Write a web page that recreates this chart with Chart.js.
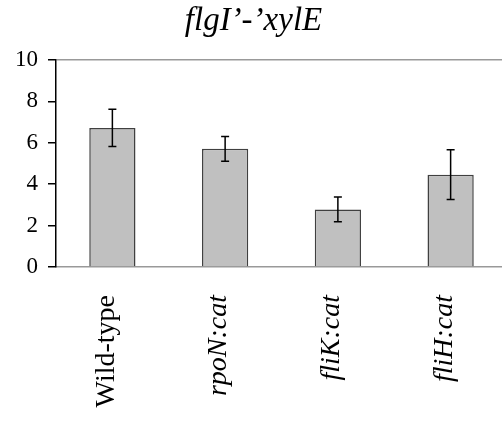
<!DOCTYPE html>
<html>
<head>
<meta charset="utf-8">
<script src="https://cdn.jsdelivr.net/npm/chart.js@4/dist/chart.umd.min.js"></script>
<style>
  html, body { margin: 0; padding: 0; background: #fff; overflow: hidden; }
  canvas { display: block; }
</style>
</head>
<body>
<canvas id="c" width="507" height="425"></canvas>
<script>
const categories = ["Wild-type", "rpoN:cat", "fliK:cat", "fliH:cat"];
const means = [6.72, 5.71, 2.78, 4.46];
const errors = [0.9, 0.6, 0.6, 1.2];
const yTicks = [0, 2, 4, 6, 8, 10];

const SERIF = "'Liberation Serif', 'Times New Roman', serif";

const errorBars = {
  id: "errorBars",
  afterDatasetsDraw(chart) {
    const { ctx, scales: { x, y } } = chart;
    ctx.save();
    ctx.strokeStyle = "#000";
    ctx.lineWidth = 1.5;
    means.forEach((m, i) => {
      const px = x.getPixelForValue(i);
      const top = y.getPixelForValue(m + errors[i]);
      const bot = y.getPixelForValue(m - errors[i]);
      ctx.beginPath();
      ctx.moveTo(px, top); ctx.lineTo(px, bot);
      ctx.moveTo(px - 4, top); ctx.lineTo(px + 4, top);
      ctx.moveTo(px - 4, bot); ctx.lineTo(px + 4, bot);
      ctx.stroke();
    });
    ctx.restore();
  }
};

new Chart(document.getElementById("c"), {
  type: "bar",
  data: {
    labels: categories,
    datasets: [{
      data: means,
      backgroundColor: "#c0c0c0",
      borderColor: "#404040",
      borderWidth: 1.5,
      barPercentage: 0.41,
      categoryPercentage: 1
    }]
  },
  options: {
    responsive: false,
    animation: false,
    layout: { padding: 0 },
    plugins: {
      legend: { display: false },
      tooltip: { enabled: false },
      title: {
        display: true,
        text: "flgI\u2019-\u2019xylE",
        color: "#000",
        font: { family: SERIF, size: 33, style: "italic", weight: "normal", lineHeight: 1.2 },
        padding: { top: 2, bottom: 18.4 }
      }
    },
    scales: {
      x: {
        afterFit: (s) => { s.height = 158; },
        border: { color: "#999", width: 1.5 },
        grid: { display: false },
        ticks: {
          color: "#000",
          minRotation: 90,
          maxRotation: 90,
          padding: 20,
          labelOffset: -6,
          font: (c) => ({ family: SERIF, size: 28, style: c.index === 0 ? "normal" : "italic" })
        }
      },
      y: {
        min: 0,
        max: 10,
        afterFit: (s) => { s.width = 56; },
        afterBuildTicks: (s) => { s.ticks = yTicks.map((v) => ({ value: v })); },
        border: { color: "#000", width: 1.5 },
        grid: {
          drawOnChartArea: true,
          color: (c) => (c.tick && c.tick.value === 10 ? "#999" : "rgba(0,0,0,0)"),
          lineWidth: 1.5,
          tickColor: "#000",
          tickLength: 8
        },
        ticks: {
          color: "#000",
          padding: 10,
          font: { family: SERIF, size: 23 }
        }
      }
    }
  },
  plugins: [errorBars]
});
</script>
</body>
</html>
